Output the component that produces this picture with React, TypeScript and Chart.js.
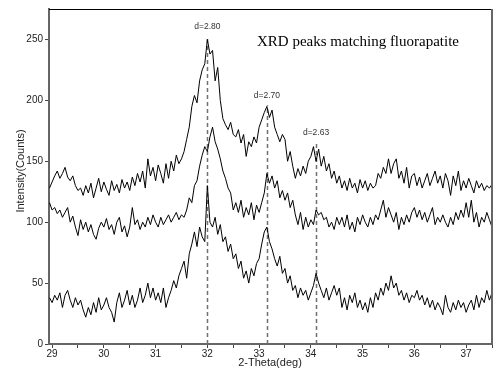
import React, { useEffect, useRef } from 'react';
import { Chart, registerables } from 'chart.js';

Chart.register(...registerables);

// 2-theta sampling grid (deg)
const THETA_START = 28.95;
const THETA_STEP = 0.05;

// Intensity (counts)
const TOP_TRACE = [
  128, 133, 138, 142, 136, 140, 145, 137, 134, 138, 130, 126,
  128, 122, 130, 124, 132, 120, 128, 136, 125, 133,
  127, 122, 134, 126, 131, 124, 135, 128, 133, 126,
  137, 130, 140, 133, 142, 128, 152, 138, 145, 134,
  147, 140, 132, 148, 136, 150, 142, 155, 148, 152,
  158, 168, 178, 195, 204, 198, 216, 225, 230, 250,
  238, 241, 216, 227, 200, 185, 180, 176, 182, 172,
  170, 176, 165, 172, 154, 166, 162, 170, 165, 178,
  184, 190, 195, 186, 192, 178, 172, 166, 172, 168,
  150, 158, 146, 136, 144, 138, 146, 140, 150, 154,
  162, 150, 160, 146, 154, 142, 148, 136, 142, 132,
  138, 128, 134, 126, 136, 128, 132, 124, 135, 128,
  134, 126, 132, 128, 130, 140, 136, 145, 140, 152,
  140, 148, 152, 136, 142, 132, 145, 128, 138, 140,
  130, 137, 128, 134, 140, 130, 136, 142, 132, 138,
  128, 140, 134, 122, 138, 130, 142, 126, 134, 128,
  136, 130, 124, 134, 128, 132, 126, 130, 128, 131,
];

const MIDDLE_TRACE = [
  116, 110, 112, 107, 110, 104, 108, 112, 100, 105, 96, 89,
  102, 94, 100, 92, 98, 90, 86, 95, 100, 96,
  103, 94, 98, 90, 100, 104, 92, 97, 88, 96,
  112, 98, 102, 94, 100, 96, 104, 98, 106, 100,
  96, 104, 98, 102, 106, 100, 104, 108, 102, 106,
  104, 110, 120, 116, 130, 134, 146, 155, 162, 158,
  170, 178, 166, 160, 152, 142, 136, 128, 124, 110,
  116, 108, 118, 104, 112, 106, 116, 102, 114, 108,
  116, 124, 140, 132, 138, 128, 134, 120, 126, 118,
  124, 112, 118, 106, 98, 108, 94, 104, 96, 102,
  98, 110, 106, 108, 102, 104, 96, 100, 94, 104,
  98, 104, 96, 106, 94, 100, 92, 104, 98, 106,
  100, 96, 104, 98, 106, 102, 110, 118, 104, 112,
  106, 100, 108, 94, 104, 98, 106, 100, 108, 112,
  104, 110, 102, 108, 100, 106, 112, 98, 104, 100,
  106, 100, 96, 104, 98, 108, 102, 110, 104, 116,
  104, 118, 100, 108, 96, 104, 100, 108, 102, 96,
];

const BOTTOM_TRACE = [
  38, 34, 40, 36, 42, 30, 40, 44, 36, 30, 38, 32,
  36, 28, 22, 30, 24, 34, 26, 38, 28, 32,
  38, 30, 26, 18, 34, 42, 30, 36, 44, 32,
  40, 30, 36, 46, 34, 40, 50, 38, 46, 36,
  42, 34, 46, 30, 38, 44, 52, 46, 56, 62,
  68, 54, 74, 82, 92, 80, 96, 88, 84, 130,
  100, 96, 104, 90, 98, 84, 88, 76, 82, 70,
  74, 62, 68, 54, 60, 50, 62, 56, 66, 70,
  82, 92, 96, 84, 78, 70, 64, 72, 58, 62,
  50, 56, 44, 48, 38, 46, 40, 44, 36, 42,
  48, 58, 50, 44, 38, 46, 36, 42, 48, 40,
  46, 30, 38, 28, 40, 34, 42, 30, 36, 28,
  34, 26, 38, 30, 42, 36, 46, 40, 50, 44,
  56, 46, 50, 40, 44, 36, 42, 34, 40, 38,
  44, 36, 40, 32, 38, 30, 36, 28, 34, 30,
  24, 40, 30, 26, 34, 28, 36, 30, 34, 26,
  32, 36, 28, 40, 30, 38, 34, 44, 36, 42,
];

const X_TICKS = [29, 29.5, 30, 30.5, 31, 31.5, 32, 32.5, 33, 33.5, 34, 34.5, 35, 35.5, 36, 36.5, 37, 37.5];
const Y_TICKS = [0, 50, 100, 150, 200, 250];
const X_MIN = 28.94;
const X_MAX = 37.5;
const Y_MIN = 0;
const Y_MAX = 275;

const PEAK_THETA = [32.0, 33.15, 34.1];
const PEAK_TOP = [252, 196, 165];
const PEAK_LABELS = ['d=2.80', 'd=2.70', 'd=2.63'];

const TITLE = 'XRD peaks matching fluorapatite';
const X_TITLE = '2-Theta(deg)';
const Y_TITLE = 'Intensity(Counts)';

const SANS = '"Liberation Sans", Arial, sans-serif';
const SERIF = '"Liberation Serif", "Times New Roman", serif';

export default function App() {
  const ref = useRef<HTMLCanvasElement>(null);

  useEffect(() => {
    if (!ref.current) return;
    const theta = (i: number) => +(THETA_START + i * THETA_STEP).toFixed(2);
    const toPts = (arr: number[]) => arr.map((y, i) => ({ x: theta(i), y }));

    const decor = {
      id: 'decor',
      beforeDatasetsDraw(chart: any) {
        const { ctx, chartArea, scales } = chart;
        ctx.save();
        ctx.strokeStyle = '#707070';
        ctx.lineWidth = 1.5;
        ctx.setLineDash([4, 3]);
        PEAK_THETA.forEach((t, i) => {
          const x = Math.round(scales.x.getPixelForValue(t)) + 0.5;
          const yTop = scales.y.getPixelForValue(PEAK_TOP[i]);
          ctx.beginPath();
          ctx.moveTo(x, chartArea.bottom);
          ctx.lineTo(x, yTop);
          ctx.stroke();
        });
        ctx.restore();
      },
      afterDraw(chart: any) {
        const { ctx, chartArea, scales } = chart;
        ctx.save();
        // frame top and right
        ctx.strokeStyle = '#000';
        ctx.lineWidth = 1;
        ctx.beginPath();
        ctx.moveTo(chartArea.left, chartArea.top + 0.5);
        ctx.lineTo(chartArea.right, chartArea.top + 0.5);
        ctx.stroke();
        ctx.strokeStyle = '#666';
        ctx.lineWidth = 2;
        ctx.beginPath();
        ctx.moveTo(chartArea.right, chartArea.top);
        ctx.lineTo(chartArea.right, chartArea.bottom);
        ctx.stroke();

        // peak labels
        ctx.fillStyle = '#333';
        ctx.font = `8.5px ${SANS}`;
        ctx.textAlign = 'center';
        ctx.textBaseline = 'middle';
        PEAK_THETA.forEach((t, i) => {
          const x = scales.x.getPixelForValue(t);
          const y = scales.y.getPixelForValue(PEAK_TOP[i]) - 10;
          ctx.fillText(PEAK_LABELS[i], x, y);
        });

        // title
        ctx.fillStyle = '#000';
        ctx.font = `15px ${SERIF}`;
        ctx.textAlign = 'center';
        ctx.fillText(TITLE, 358, 42);

        // axis titles
        ctx.fillStyle = '#222';
        ctx.font = `11px ${SANS}`;
        ctx.fillText(X_TITLE, 270, 363);
        ctx.translate(21, 171);
        ctx.rotate(-Math.PI / 2);
        ctx.fillText(Y_TITLE, 0, 0);
        ctx.restore();
      },
    };

    const chart = new Chart(ref.current, {
      type: 'line',
      data: {
        datasets: [
          { data: toPts(TOP_TRACE), borderColor: '#000', borderWidth: 1, pointRadius: 0, tension: 0, fill: false },
          { data: toPts(MIDDLE_TRACE), borderColor: '#000', borderWidth: 1, pointRadius: 0, tension: 0, fill: false },
          { data: toPts(BOTTOM_TRACE), borderColor: '#000', borderWidth: 1, pointRadius: 0, tension: 0, fill: false },
        ],
      },
      options: {
        animation: false,
        responsive: false,
        devicePixelRatio: 1,
        layout: { padding: { top: 9, right: 6, left: 0, bottom: 0 } },
        plugins: { legend: { display: false }, tooltip: { enabled: false }, title: { display: false } },
        scales: {
          x: {
            type: 'linear',
            min: X_MIN,
            max: X_MAX,
            afterBuildTicks: (s: any) => { s.ticks = X_TICKS.map((v) => ({ value: v })); },
            afterFit: (s: any) => { s.height = 24; },
            border: { display: true, color: '#666', width: 2 },
            grid: { drawOnChartArea: false, drawTicks: true, tickLength: 4, tickColor: '#444', tickWidth: 1 },
            ticks: {
              autoSkip: false,
              maxRotation: 0,
              padding: 0,
              color: '#222',
              font: { family: SANS, size: 10 },
              callback: (v: any) => (Number.isInteger(v) ? String(v) : ''),
            },
          },
          y: {
            type: 'linear',
            min: Y_MIN,
            max: Y_MAX,
            afterBuildTicks: (s: any) => { s.ticks = Y_TICKS.map((v) => ({ value: v })); },
            afterFit: (s: any) => { s.width = 49; },
            border: { display: true, color: '#666', width: 2 },
            grid: { drawOnChartArea: false, drawTicks: true, tickLength: 4, tickColor: '#444', tickWidth: 1 },
            ticks: {
              padding: 2,
              color: '#222',
              font: { family: SANS, size: 10 },
            },
          },
        },
      },
      plugins: [decor],
    } as any);

    return () => chart.destroy();
  }, []);

  return (
    <div style={{ position: 'fixed', left: 0, top: 0, width: 498, height: 368, background: '#fff' }}>
      <canvas ref={ref} width={498} height={368} style={{ display: 'block' }} />
    </div>
  );
}
